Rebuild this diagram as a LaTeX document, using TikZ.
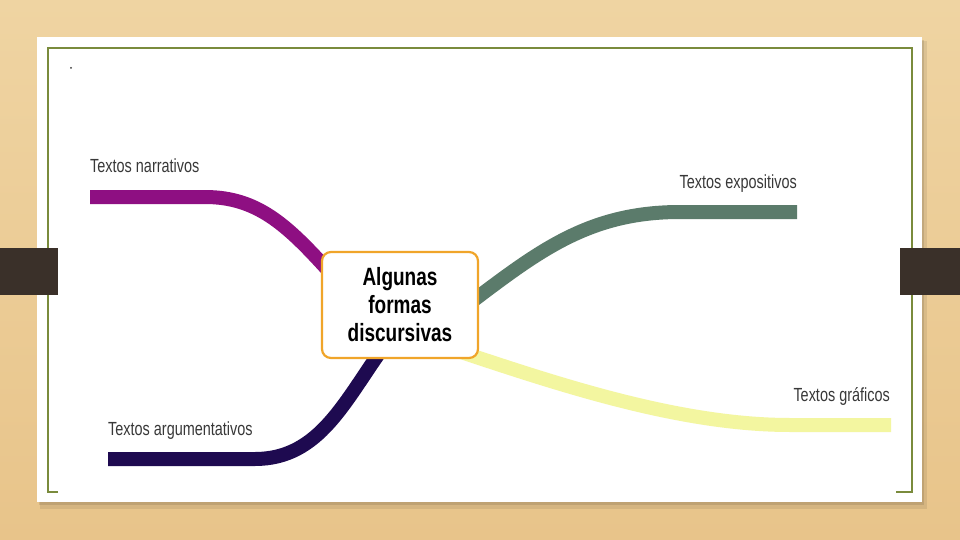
\documentclass[tikz,border=0pt]{standalone}
\usepackage{fontspec}
\setmainfont{Liberation Sans}
\newfontfamily\narrowfont[FakeStretch=0.76]{Liberation Sans}
\definecolor{woodtop}{HTML}{EFD4A2}
\definecolor{woodbot}{HTML}{E8C48A}
\definecolor{framegreen}{HTML}{7A8B3C}
\definecolor{tabbrown}{HTML}{3A3029}
\definecolor{narrcol}{HTML}{8E0F82}
\definecolor{argcol}{HTML}{1E0A50}
\definecolor{expocol}{HTML}{5B7B6B}
\definecolor{grafcol}{HTML}{F3F6A0}
\definecolor{hubborder}{HTML}{F0A52A}
\definecolor{labelcol}{HTML}{383838}
\tikzset{
  branch/.style={line width=14pt, line cap=butt},
  hubbox/.style={draw=hubborder, line width=2.2pt, fill=white, rounded corners=9pt,
    minimum width=156pt, minimum height=106pt, align=center, text=black,
    font=\narrowfont\bfseries\fontsize{25}{28}\selectfont, inner sep=0pt},
  lbl/.style={text=labelcol, font=\narrowfont\fontsize{19}{22}\selectfont, inner sep=0pt},
  tabbox/.style={fill=tabbrown},
  framelines/.style={draw=framegreen, line width=2pt}
}
\begin{document}
\begin{tikzpicture}[x=1pt,y=-1pt]
\useasboundingbox (0,0) rectangle (960,540);
% wood background
\shade[top color=woodtop, bottom color=woodbot] (0,0) rectangle (960,540);
% panel shadow and panel
\fill[black, opacity=0.08] (40,41) rectangle (927,509);
\fill[black, opacity=0.10] (39,40) rectangle (924,505);
\fill[white] (37,37) rectangle (922,502);
% green frame
\draw[framelines] (58,492) -- (48,492) -- (48,48) -- (912,48) -- (912,492) -- (896,492);
% tabs
\fill[tabbox] (0,248) rectangle (58,295);
\fill[tabbox] (900,248) rectangle (960,295);
% dot
\fill[labelcol] (71,68) circle (1pt);
% branch coordinates
\coordinate (narrStart) at (335,278);
\coordinate (narrKnee) at (205,197);
\coordinate (narrEnd) at (90,197);
\coordinate (argStart) at (385,345);
\coordinate (argKnee) at (255,459);
\coordinate (argEnd) at (108,459);
\coordinate (expoStart) at (470,303);
\coordinate (expoKnee) at (680,212);
\coordinate (expoEnd) at (797,212);
\coordinate (grafStart) at (455,350);
\coordinate (grafKnee) at (790,425);
\coordinate (grafEnd) at (891,425);
% branches
\draw[branch, draw=narrcol] (narrStart) .. controls (290,228) and (260,197) .. (narrKnee) -- (narrEnd);
\draw[branch, draw=argcol] (argStart) .. controls (345,400) and (320,459) .. (argKnee) -- (argEnd);
\draw[branch, draw=expocol] (expoStart) .. controls (540,250) and (590,212) .. (expoKnee) -- (expoEnd);
\draw[branch, draw=grafcol] (grafStart) .. controls (560,385) and (680,425) .. (grafKnee) -- (grafEnd);
% central node
\node[hubbox] (hub) at (400,305) {Algunas\\formas\\discursivas};
% labels
\node[lbl, anchor=base west] (narrLbl) at (90,173) {Textos narrativos};
\node[lbl, anchor=base west] (argLbl) at (108,435) {Textos argumentativos};
\node[lbl, anchor=base east] (expoLbl) at (797,188) {Textos expositivos};
\node[lbl, anchor=base east] (grafLbl) at (890,401) {Textos gráficos};
\end{tikzpicture}
\end{document}
